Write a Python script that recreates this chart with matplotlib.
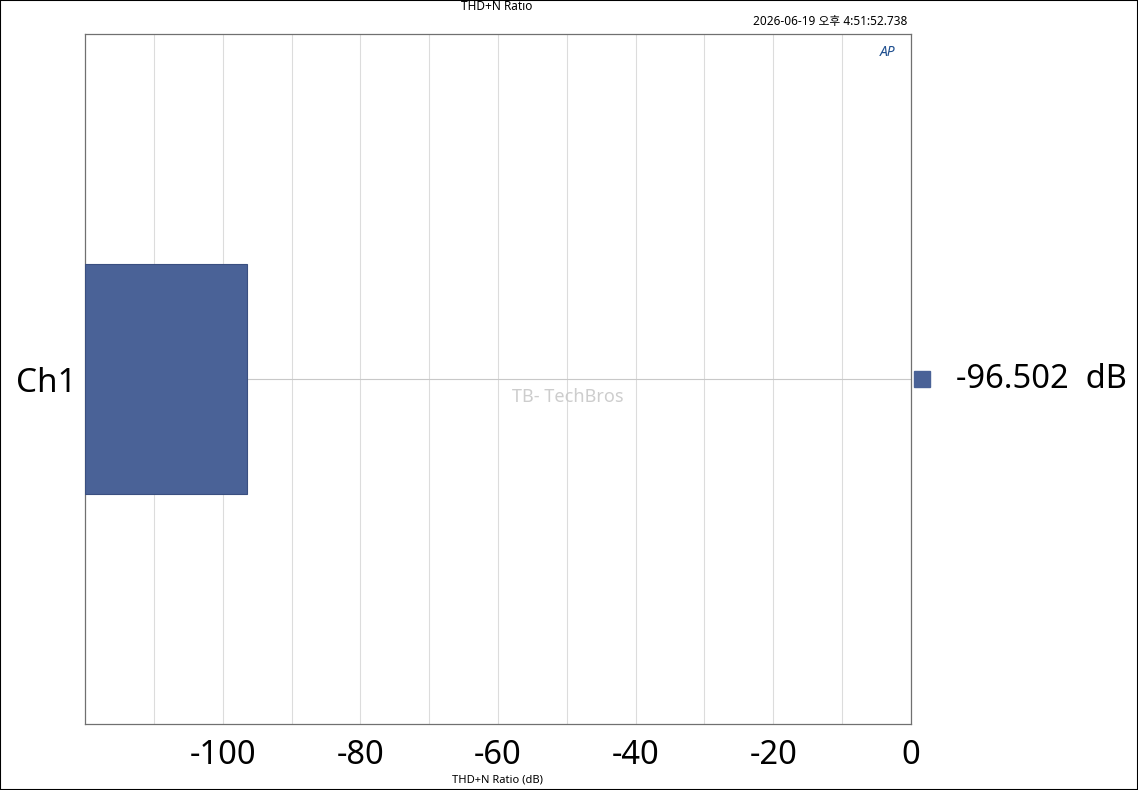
import numpy as np
import matplotlib.pyplot as plt
from matplotlib.patches import Rectangle

plt.rcParams['font.family'] = ['Noto Sans', 'Noto Sans CJK KR', 'DejaVu Sans']
plt.rcParams['axes.unicode_minus'] = False

channels = ['Ch1']
thdn_db = [-96.502]
xticks = [-100, -80, -60, -40, -20, 0]
bar_color = '#4a6297'

fig = plt.figure(figsize=(11.38, 7.90), dpi=100)
ax = fig.add_axes([85/1138, 1-724/790, (911-85)/1138, (724-34)/790])

y = np.arange(len(channels))
ax.barh(y, np.array(thdn_db) + 120, left=-120, height=1.0,
        color=bar_color, edgecolor='#3a4f80', linewidth=0.8, zorder=3)

ax.set_xlim(-120, 0)
ax.set_ylim(-1.5, 1.5)
ax.set_xticks(xticks)
ax.set_xticks(np.arange(-110, 0, 10), minor=True)
ax.set_yticks(y)
ax.set_yticklabels(channels, fontsize=24)
ax.tick_params(axis='x', labelsize=23.5, length=0, pad=11, which='both')
ax.tick_params(axis='y', length=0, pad=6)
ax.grid(True, axis='x', which='both', color='#dcdcdc', linewidth=0.8, zorder=0)
ax.grid(True, axis='y', color='#c8c8c8', linewidth=0.8, zorder=0)
for s in ax.spines.values():
    s.set_color('#707070')
    s.set_linewidth(0.9)

fig.text(497/1138, 1-780/790, 'THD+N Ratio (dB)', ha='center', va='center', fontsize=8)
fig.text(497/1138, 1-7/790, 'THD+N Ratio', ha='center', va='center', fontsize=8.5)
fig.text(907/1138, 1-22/790, '2026-06-19 오후 4:51:52.738', ha='right', va='center', fontsize=8.5)
fig.text(888/1138, 1-53/790, 'AP', ha='center', va='center', fontsize=10,
         fontweight='bold', fontstyle='italic', color='#1f4f8f')

# legend value on the right
for i, v in enumerate(thdn_db):
    ax.plot([1.013], [y[i]], marker='s', markersize=11, color=bar_color,
            transform=ax.get_yaxis_transform(), clip_on=False)
    ax.text(1.055, y[i], f'{v:.3f}  dB', transform=ax.get_yaxis_transform(),
            ha='left', va='center', fontsize=23.5)

# watermark
fig.text(568/1138, 1-397/790, 'TB- TechBros', ha='center', va='center',
         fontsize=13, color='#c8c8c8', fontweight='bold', alpha=0.9)

fig.patches.append(Rectangle((0, 0), 1, 1, transform=fig.transFigure,
                             fill=False, edgecolor='black', linewidth=1.5))

fig.savefig('out.png', dpi=100)
